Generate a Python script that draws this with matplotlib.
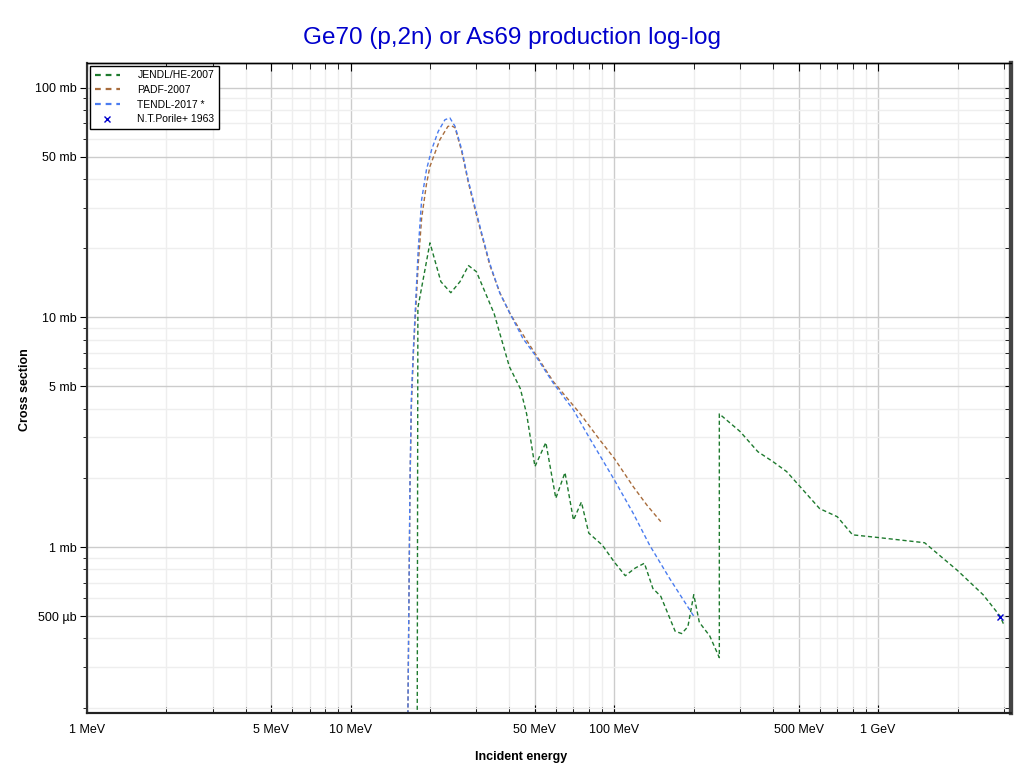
import numpy as np
import matplotlib.pyplot as plt
from matplotlib.ticker import FixedLocator, FixedFormatter, NullFormatter

plt.rcParams['font.family'] = ['Liberation Sans', 'DejaVu Sans']

# energies in MeV, cross sections in mb (0 = below threshold)
jendl_e = [1, 17.9, 18, 20, 22, 24, 26, 28, 30, 35, 40, 44, 46.5, 50, 55, 60, 65, 70, 75,
           80, 90, 100, 110, 120, 130, 140, 150, 170, 180, 190, 200, 210, 230, 250, 250,
           300, 350, 400, 450, 500, 600, 700, 800, 1000, 1500, 2000, 2500, 2900, 3000]
jendl_s = [0, 0, 11, 21.1, 14.3, 12.8, 14.3, 16.8, 15.8, 10.4, 6.1, 4.9, 3.8, 2.24, 2.85,
           1.63, 2.11, 1.31, 1.57, 1.15, 1.02, 0.86, 0.75, 0.81, 0.85, 0.66, 0.61, 0.43,
           0.42, 0.45, 0.62, 0.47, 0.41, 0.33, 3.8, 3.18, 2.6, 2.35, 2.13, 1.86, 1.47,
           1.355, 1.13, 1.10, 1.044, 0.79, 0.62, 0.50, 0.457]

padf_e = [1, 16.5, 16.8, 17.0, 17.3, 17.6, 18.05, 18.6, 19.4, 20, 21.8, 23.4, 24.1, 24.9,
          26.4, 27.9, 29.6, 31.4, 33.7, 36.8, 40.2, 43.9, 50, 58.7, 74, 88, 100, 118, 133, 150]
padf_s = [0, 0, 1.8, 4.0, 6.9, 10.0, 17, 27, 38, 45.4, 59.3, 67.8, 68.3, 66.9, 52.6, 39,
          29.7, 22.9, 16.9, 12.8, 10.4, 8.8, 6.98, 5.25, 3.82, 2.93, 2.43, 1.83, 1.52, 1.29]

tendl_e = [1, 16.5, 16.8, 17.0, 17.3, 17.6, 18.05, 18.6, 19.4, 20.3, 21.5, 22.8, 23.8, 24.9,
           26.4, 27.9, 29.6, 31.4, 33.7, 36.8, 40.2, 45, 50, 58.7, 70, 80, 100, 118, 136,
           162, 200]
tendl_s = [0, 0, 1.9, 4.4, 7.2, 10.8, 19.7, 32.5, 43.9, 53.7, 64.5, 72.5, 73.8, 67.8, 53.7,
           39.7, 30.4, 23.3, 17.2, 12.75, 10.4, 8.1, 6.87, 5.17, 3.95, 3.02, 1.96, 1.40,
           1.02, 0.73, 0.50]

porile_e = [2900]
porile_s = [0.497]

xticks = [1, 5, 10, 50, 100, 500, 1000]
xlabels = ['1 MeV', '5 MeV', '10 MeV', '50 MeV', '100 MeV', '500 MeV', '1 GeV']
yticks = [0.5, 1, 5, 10, 50, 100]
ylabels = ['500 µb', '1 mb', '5 mb', '10 mb', '50 mb', '100 mb']

YMIN, YMAX = 0.19, 128
XMIN, XMAX = 1, 3180

fig = plt.figure(figsize=(10.24, 7.73), dpi=100)
ax = fig.add_axes([0.0847, 0.078, 0.9023, 0.8405])
ax.set_xscale('log')
ax.set_yscale('log')

dash = (0, (3, 2))
ax.plot(jendl_e, np.maximum(jendl_s, YMIN), color='#1e7a2e', lw=1, ls=dash, label='JENDL/HE-2007')
ax.plot(padf_e, np.maximum(padf_s, YMIN), color='#a86c3c', lw=1, ls=dash, label='PADF-2007')
ax.plot(tendl_e, np.maximum(tendl_s, YMIN), color='#4a7cf0', lw=1, ls=dash, label='TENDL-2017 *')
ax.plot(porile_e, porile_s, 'x', color='#0000cc', ms=5, mew=1, label='N.T.Porile+ 1963')

ax.set_xlim(XMIN, XMAX)
ax.set_ylim(YMIN, YMAX)

minor_x = [m * d for d in [1, 10, 100, 1000] for m in [2, 3, 4, 6, 7, 8, 9] if m * d < XMAX]
minor_y = [m * d for d in [0.1, 1, 10, 100] for m in [2, 3, 4, 6, 7, 8, 9] if YMIN <= m * d <= YMAX]
ax.xaxis.set_major_locator(FixedLocator(xticks))
ax.xaxis.set_major_formatter(FixedFormatter(xlabels))
ax.xaxis.set_minor_locator(FixedLocator(minor_x))
ax.xaxis.set_minor_formatter(NullFormatter())
ax.yaxis.set_major_locator(FixedLocator(yticks))
ax.yaxis.set_major_formatter(FixedFormatter(ylabels))
ax.yaxis.set_minor_locator(FixedLocator(minor_y))
ax.yaxis.set_minor_formatter(NullFormatter())

ax.set_axisbelow(True)
ax.grid(True, which='major', color='#cccccc', lw=1)
ax.grid(True, which='minor', color='#eeeeee', lw=1)

ax.tick_params(axis='x', which='major', direction='in', length=6, top=True, labelsize=9, pad=8)
ax.tick_params(axis='x', which='minor', direction='in', length=4, top=True)
ax.tick_params(axis='y', which='major', direction='out', length=5, labelsize=9, pad=2)
ax.tick_params(axis='y', which='minor', direction='out', length=3)

# right side ticks point inward
ax2 = ax.twinx()
ax2.set_yscale('log')
ax2.set_ylim(YMIN, YMAX)
ax2.yaxis.set_major_locator(FixedLocator(yticks))
ax2.yaxis.set_minor_locator(FixedLocator(minor_y))
ax2.tick_params(axis='y', which='both', direction='in', length=4, labelright=False)
ax2.yaxis.set_minor_formatter(NullFormatter())

for a in (ax, ax2):
    a.spines['left'].set_color('#333333')
    a.spines['left'].set_linewidth(1.5)
    a.spines['bottom'].set_color('#222222')
    a.spines['bottom'].set_linewidth(1.5)
    a.spines['right'].set_color('#444444')
    a.spines['right'].set_linewidth(3)
    a.spines['top'].set_color('black')
    a.spines['top'].set_linewidth(1)

h, l = ax.get_legend_handles_labels()
leg = ax2.legend(h, l, loc='upper left', bbox_to_anchor=(0.004, 0.995), fontsize=7.5,
                 fancybox=False, edgecolor='black', framealpha=1, borderaxespad=0,
                 handlelength=2.4, handletextpad=1.7, labelspacing=0.45, borderpad=0.4)
leg.get_frame().set_linewidth(1)
for ln in leg.get_lines()[:3]:
    ln.set_linewidth(1.6)
    ln.set_linestyle((0, (2.6, 2.2)))

fig.text(0.5, 1 - 38 / 773, 'Ge70 (p,2n) or As69 production log-log', ha='center', va='center',
         color='#0000cc', fontsize=17.5)
fig.text(521 / 1024, 1 - 757 / 773, 'Incident energy', ha='center', va='center',
         fontsize=9, fontweight='bold')
fig.text(25 / 1024, 1 - 390 / 773, 'Cross section', ha='center', va='center', rotation=90,
         fontsize=9, fontweight='bold')

fig.savefig('out.png', dpi=100)
